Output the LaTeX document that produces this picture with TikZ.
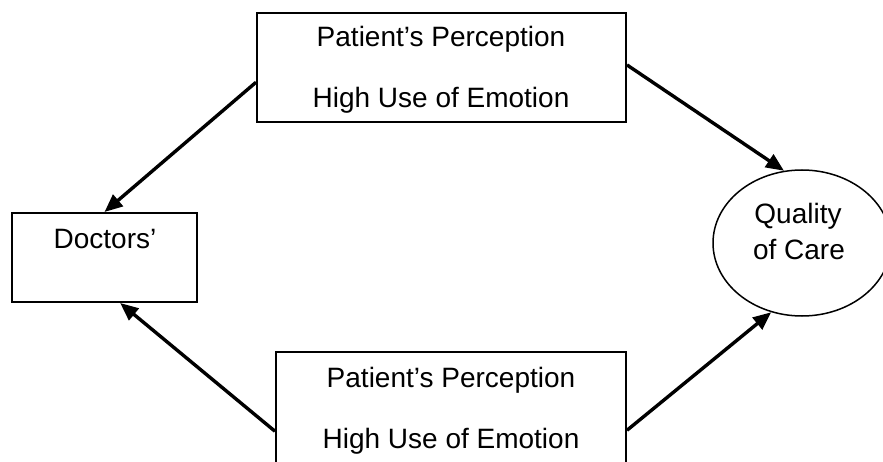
\documentclass[tikz,border=0pt]{standalone}
\usepackage{fontspec}
\setmainfont{Liberation Sans}
\usetikzlibrary{arrows.meta,calc,shapes.geometric}
\begin{document}
\begin{tikzpicture}[x=1pt,y=-1pt,
  box/.style={draw,line width=2pt,rectangle,inner sep=0pt},
  oval/.style={draw,line width=1.5pt,ellipse,inner sep=0pt},
  lbl/.style={anchor=base,inner sep=0pt,font=\fontsize{28}{32}\selectfont},
  conn/.style={line width=3.4pt,-{Triangle[length=18pt,width=15pt]}}]
\useasboundingbox (0,0) rectangle (883,462);
\node[box,minimum width=369pt,minimum height=109pt] (top) at (441.5,67.5) {};
\node[box,minimum width=350pt,minimum height=123pt] (bot) at (451,413.5) {};
\node[box,minimum width=185pt,minimum height=89pt] (doc) at (104.5,257.5) {};
\node[oval,minimum width=178pt,minimum height=146pt] (qoc) at (802,243) {};
\node[lbl] (t1) at (441,47) {Patient’s Perception};
\node[lbl] (t2) at (441,108) {High Use of Emotion};
\node[lbl] (b1) at (451,387) {Patient’s Perception};
\node[lbl] (b2) at (451,448) {High Use of Emotion};
\node[lbl] (d1) at (105,249) {Doctors’};
\node[lbl] (q1) at (798,224) {Quality};
\node[lbl] (q2) at (799,260) {of Care};
\coordinate (a2s) at ($(top.north west)!{69/109}!(top.south west)$);
\coordinate (a1s) at ($(top.north east)!{52/109}!(top.south east)$);
\coordinate (a4s) at ($(bot.north east)!{78/123}!(bot.south east)$);
\coordinate (a3s) at ($(bot.north west)!{79/123}!(bot.south west)$);
\coordinate (a3e) at ($(doc.south west)!{108/185}!(doc.south east)$);
\draw[conn] (a2s) -- (doc.north);
\draw[conn] (a1s) -- (qoc.104);
\draw[conn] (a4s) -- (qoc.246);
\draw[conn] (a3s) -- (a3e);
\end{tikzpicture}
\end{document}
